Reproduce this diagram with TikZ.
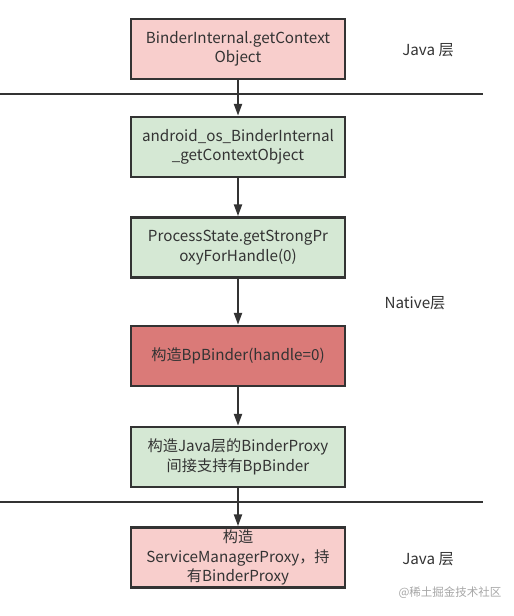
\documentclass[tikz,border=0pt]{standalone}
\usepackage{fontspec}
\setmainfont{Noto Sans CJK SC}
\usetikzlibrary{arrows.meta}
\definecolor{javafill}{HTML}{F8CECC}
\definecolor{nativefill}{HTML}{D5E8D4}
\definecolor{bpfill}{RGB}{218,122,120}
\definecolor{ink}{HTML}{333333}
\begin{document}
\begin{tikzpicture}[x=1pt, y=-1pt, >={Triangle[width=8pt,length=12pt]},
  box/.style={draw=ink, line width=2.5pt, minimum width=214pt, minimum height=60pt,
    align=center, text=ink, font=\fontsize{15.2}{19.5}\selectfont, inner sep=0pt},
  layer/.style={text=ink, font=\fontsize{15.2}{17}\selectfont}]
\useasboundingbox (0, 0) rectangle (514, 616);
\node [box, fill=javafill]   (ctx)    at (238, 49)    {BinderInternal.getContext\\Object};
\node [box, fill=nativefill] (jni)    at (238, 147)   {android\_os\_BinderInternal\\\_getContextObject};
\node [box, fill=nativefill] (strong) at (238, 247.5) {ProcessState.getStrongPr\\oxyForHandle(0)};
\node [box, fill=bpfill]     (bp)     at (238, 356)   {构造BpBinder(handle=0)};
\node [box, fill=nativefill] (proxy)  at (238, 457)   {构造Java层的BinderProxy\\间接支持有BpBinder};
\node [box, fill=javafill]   (smp)    at (238, 557.5) {构造\\ServiceManagerProxy，持\\有BinderProxy};
\draw [ink, line width=2pt] (0, 94) -- (483, 94) (0, 502) -- (483, 502);
\foreach \a/\b in {ctx/jni, jni/strong, strong/bp, bp/proxy, proxy/smp}
  \draw [->, ink, line width=2.2pt] (\a) -- (\b);
\node [layer] (javatop) at (428, 50)  {Java 层};
\node [layer] (native)  at (415, 303) {Native层};
\node [layer] (javabot) at (428, 559) {Java 层};
\node [text=black!35, font=\fontsize{11.5}{13}\selectfont] (mark) at (450, 593) {@稀土掘金技术社区};
\end{tikzpicture}
\end{document}
